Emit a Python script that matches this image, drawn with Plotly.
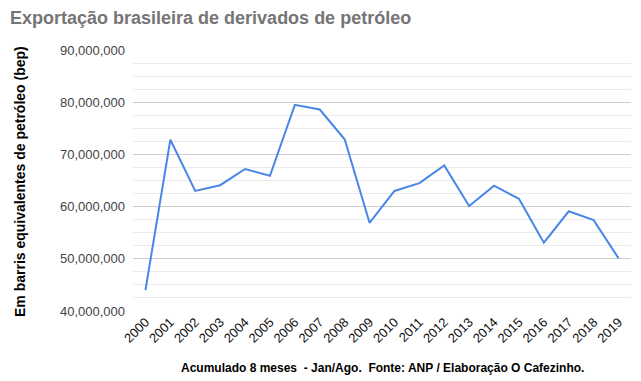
import plotly.graph_objects as go

years = [str(y) for y in range(2000, 2020)]
values = [44.0e6, 72.8e6, 63.0e6, 64.1e6, 67.2e6, 65.9e6, 79.5e6, 78.6e6, 72.9e6, 56.9e6,
          63.0e6, 64.5e6, 67.9e6, 60.1e6, 64.0e6, 61.5e6, 53.1e6, 59.1e6, 57.4e6, 50.1e6]
y_ticks = [40e6, 50e6, 60e6, 70e6, 80e6, 90e6]

title_text = "Exportação brasileira de derivados de petróleo"
y_title = "Em barris equivalentes de petróleo (bep)"
x_title = "Acumulado 8 meses \u00a0- Jan/Ago. \u00a0Fonte: ANP / Elaboração O Cafezinho."

FONT = "Liberation Sans, Arial, sans-serif"

# page body has an 8px default margin, so the figure is drawn at (8, 8)
W, H = 633, 373
L, R, T, B = 125, 10, 42, 70
PW, PH = W - L - R, H - T - B

fig = go.Figure()
fig.add_trace(go.Scatter(
    x=years, y=values, mode="lines",
    line=dict(color="#4a86e8", width=2),
    hoverinfo="x+y",
))

fig.update_layout(
    width=W, height=H,
    margin=dict(l=L, r=R, t=T, b=B),
    paper_bgcolor="white", plot_bgcolor="white",
    showlegend=False,
    font=dict(family=FONT),
    title=dict(text="<b>" + title_text + "</b>", x=2/W, xanchor="left",
               y=1 - 10/H, yanchor="middle",
               font=dict(family=FONT, size=18, color="#757575")),
)

fig.update_xaxes(
    type="category", range=[-0.5, 19.5],
    tickangle=-45, tickfont=dict(family=FONT, size=13, color="#111111"),
    showgrid=False, zeroline=False, showline=False, ticks="",
)
fig.update_yaxes(
    range=[40e6, 90e6], tickvals=y_ticks, tickformat=",d",
    tickfont=dict(family=FONT, size=13, color="#444444"),
    showgrid=True, gridcolor="#cccccc", gridwidth=1,
    minor=dict(dtick=2.5e6, showgrid=True, gridcolor="#ebebeb", gridwidth=1),
    zeroline=False, showline=False, ticks="", ticklabelstandoff=7,
)

fig.add_annotation(
    text="<b>" + y_title + "</b>", xref="paper", yref="paper",
    x=(12 - L) / PW, y=(T + PH - 174) / PH, xanchor="center", yanchor="middle",
    textangle=-90, showarrow=False,
    font=dict(family=FONT, size=14, color="#000000"),
)
fig.add_annotation(
    text="<b>" + x_title + "</b>", xref="paper", yref="paper",
    x=0.5, y=(T + PH - 360) / PH, xanchor="center", yanchor="middle",
    showarrow=False,
    font=dict(family=FONT, size=12, color="#000000"),
)

fig.write_html("out.html")
